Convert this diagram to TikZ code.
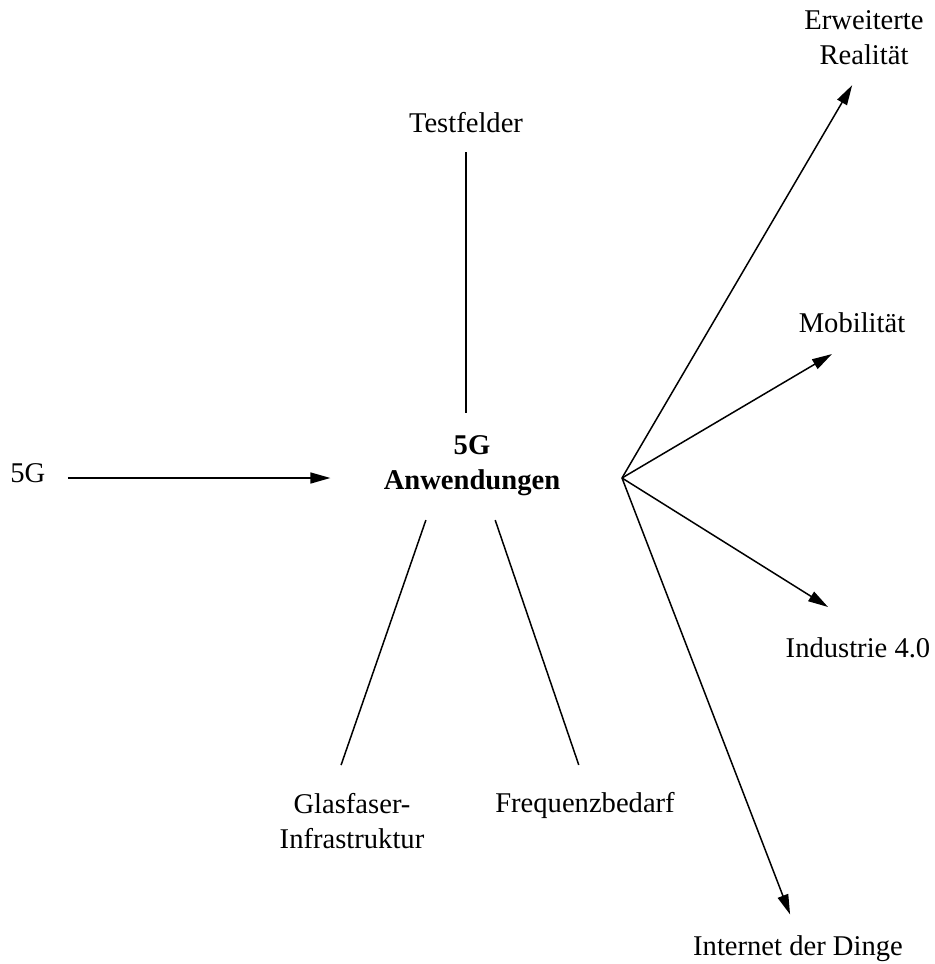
\documentclass[tikz,border=0pt]{standalone}
\usepackage{fontspec}
\setmainfont{Liberation Serif}
\usetikzlibrary{arrows.meta}
\tikzset{
    mynode/.style = {inner sep=0pt, align=center, font=\fontsize{14.3}{17.5}\selectfont},
    mynodeb/.style = {inner sep=0pt, align=center, font=\fontsize{14.3}{17.5}\selectfont\bfseries},
    edgen/.style = {-{Triangle[length=10pt,width=5.5pt]}, line width=0.75pt}, % arrow
    edgel/.style = {-, line width=0.75pt} % plain line
}

\begin{document}
\begin{tikzpicture}[x=0.5pt,y=-0.5pt]
\useasboundingbox (0,0) rectangle (934,964);

\node[mynodeb, anchor=north] at (472,435) (app) {5G\\Anwendungen};
\node[mynode, anchor=base west] at (10,482) (g5) {5G};
\node[mynode, anchor=south] at (466,133) (test) {Testfelder};
\node[mynode, anchor=north] at (352,793) (glas) {Glasfaser-\\Infrastruktur};
\node[mynode, anchor=north] at (585,792) (freq) {Frequenzbedarf};
\node[mynode, anchor=south] at (864,65) (erw) {Erweiterte\\Realität};
\node[mynode, anchor=south] at (852,333) (mob) {Mobilität};
\node[mynode, anchor=north] at (858,637) (ind) {Industrie 4.0};
\node[mynode, anchor=north] at (798,935) (int) {Internet der Dinge};
\coordinate (hub) at (622,478);

\draw[edgen, shorten <=11pt, shorten >=26.5pt] (g5.east |- hub) -- (app.west |- hub);
\draw[edgel, shorten <=9.5pt, shorten >=11pt] (test.south) -- (test.south |- app.north);
\draw[edgel, shorten <=12.7pt, shorten >=14.8pt] ([xshift=-18.9pt]app.south) -- ([xshift=-10.3pt]glas.north);
\draw[edgel, shorten <=12.7pt, shorten >=14.3pt] ([xshift=7.5pt]app.south) -- ([xshift=1.5pt]freq.north);

\draw[edgen, shorten >=11.7pt] (hub) -- (erw.south);
\draw[edgen, shorten >=20.7pt] (hub) -- ([xshift=7.8pt]mob.south);
\draw[edgen, shorten >=28.3pt] (hub) -- ([xshift=9pt]ind.north);
\draw[edgen, shorten >=11pt] (hub) -- (int.north);

\end{tikzpicture}
\end{document}
